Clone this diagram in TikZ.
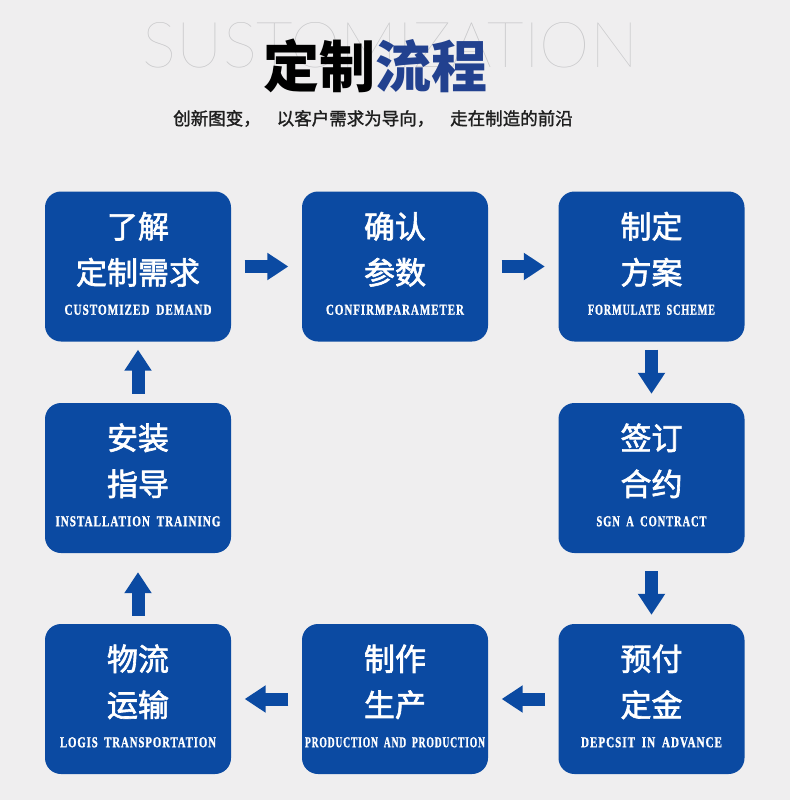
\documentclass[tikz,border=0pt]{standalone}
\usepackage{fontspec}
\usepackage{graphicx}
\usetikzlibrary{arrows.meta,calc}
\setmainfont{Liberation Serif}
\newfontfamily\cjk{Noto Sans CJK SC}
\newfontfamily\cjkm{Noto Sans CJK SC}[FakeBold=2]
\newfontfamily\cjks{Noto Sans CJK SC}[FakeBold=1.5]
\newfontfamily\thinf{Lato Hairline}
\newfontfamily\enf{Liberation Serif}[LetterSpace=9, WordSpace=1.8, BoldFeatures={FakeBold=1.5}]
\definecolor{bg}{HTML}{EFEEEF}
\definecolor{boxblue}{HTML}{0B4AA2}
\definecolor{titleblue}{HTML}{22418F}
\definecolor{ghost}{HTML}{C6C6C8}
\newcommand\card[6]{%
  \node[box] (#1) at (#2) {};
  \node[zh] (#1-a) at ($(#1.north)+(0,35)$) {#3};
  \node[zh] (#1-b) at ($(#1.north)+(0,81)$) {#4};
  \node[en] (#1-c) at ($(#1.north)+(0,118.5)$) {\resizebox{#6pt}{10pt}{\enf\bfseries #5}};
}
\begin{document}
\begin{tikzpicture}[x=1pt,y=-1pt,
  box/.style={fill=boxblue, rounded corners=16pt, minimum width=186pt, minimum height=150pt, inner sep=0pt},
  zh/.style={text=white, font=\cjkm\fontsize{31}{31}\selectfont, inner sep=0pt},
  en/.style={text=white, inner sep=0pt},
  flow/.style={draw=boxblue, line width=13pt, -{Triangle[width=26pt,length=21pt]}}]
\useasboundingbox (0,0) rectangle (790,800);
\fill[bg] (0,0) rectangle (790,800);
% titles
\node[inner sep=0pt, text=ghost] (ghost) at (390.5,45.5) {\resizebox{495pt}{45pt}{\thinf SUSTOMIZATION}};
\node[inner sep=0pt, font=\cjk\fontsize{56}{56}\selectfont\bfseries] (title) at (375.5,66) {定制\textcolor{titleblue}{流程}};
\node[inner sep=0pt, font=\cjks\fontsize{17.5}{17.5}\selectfont, text=black!88] (sub) at (373,118.5) {创新图变，\hspace{16pt}以客户需求为导向，\hspace{16pt}走在制造的前沿};
% cards
\card{b1}{138,266.5}{了解}{定制需求}{CUSTOMIZED DEMAND}{147}
\card{b2}{395,266.5}{确认}{参数}{CONFIRMPARAMETER}{138}
\card{b3}{651.5,266.5}{制定}{方案}{FORMULATE SCHEME}{127}
\card{b4}{651.5,478}{签订}{合约}{SGN A CONTRACT}{110}
\card{b5}{651.5,699}{预付}{定金}{DEPCSIT IN ADVANCE}{141}
\card{b6}{395,699}{制作}{生产}{PRODUCTION AND PRODUCTION}{180}
\card{b7}{138,699}{物流}{运输}{LOGIS TRANSPORTATION}{156}
\card{b8}{138,478}{安装}{指导}{INSTALLATION TRAINING}{165}
% connectors
\draw[flow, shorten <=13.5pt, shorten >=13.5pt] (b1) -- (b2);
\draw[flow, shorten <=13.5pt, shorten >=13.5pt] (b2) -- (b3);
\draw[flow, shorten <=8pt, shorten >=9pt] (b3) -- (b4);
\draw[flow, shorten <=18pt, shorten >=9pt] (b4) -- (b5);
\draw[flow, shorten <=13.5pt, shorten >=13.5pt] (b5) -- (b6);
\draw[flow, shorten <=13.5pt, shorten >=13.5pt] (b6) -- (b7);
\draw[flow, shorten <=8pt, shorten >=19pt] (b7) -- (b8);
\draw[flow, shorten <=9pt, shorten >=8pt] (b8) -- (b1);
\end{tikzpicture}
\end{document}
